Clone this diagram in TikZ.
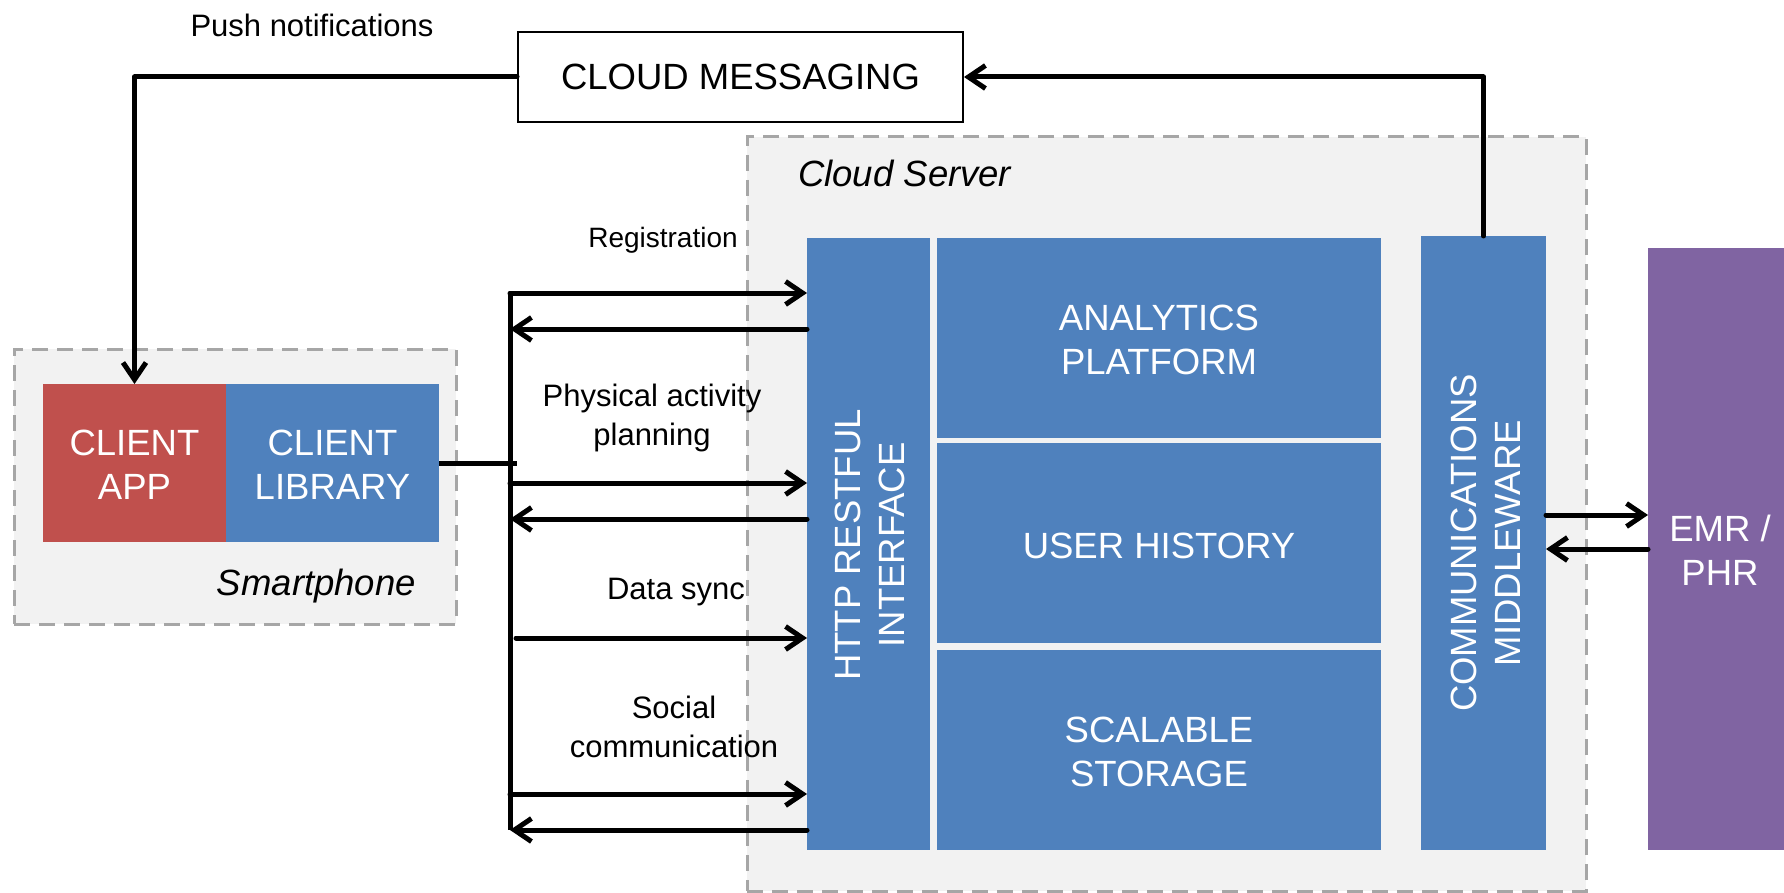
\documentclass[tikz,border=0pt]{standalone}
\usepackage{fontspec}
\setmainfont{Liberation Sans}
\usetikzlibrary{arrows.meta,calc}

\definecolor{cblue}{HTML}{4F81BD}
\definecolor{cred}{HTML}{C0504D}
\definecolor{cpurple}{HTML}{8064A2}
\definecolor{panelfill}{HTML}{F2F2F2}
\definecolor{paneledge}{HTML}{A6A6A6}

\tikzset{
  block/.style={draw=none, inner sep=0pt, outer sep=0pt},
  panel/.style={fill=panelfill, draw=paneledge, line width=3pt,
                dash pattern=on 16pt off 9pt, inner sep=0pt, outer sep=0pt},
  boxtext/.style={text=white, align=center, inner sep=0pt,
                  font=\fontsize{36.5}{44}\selectfont},
  lbl/.style={align=center, inner sep=0pt, font=\fontsize{31}{38.5}\selectfont},
  ital/.style={inner sep=0pt, font=\fontsize{36.5}{43}\selectfont\itshape},
  arr/.style={line width=5pt, line cap=round, line join=round,
              -{Straight Barb[length=17pt,width=23pt,line width=5pt]}},
  wire/.style={line width=5pt},
}

\begin{document}
\begin{tikzpicture}[x=1pt,y=-1pt]
\useasboundingbox (0,0) rectangle (1784,893);

% containers
\node[panel, minimum width=839pt, minimum height=754pt] (server) at (1166.5,514) {};
\node[panel, minimum width=442pt, minimum height=275pt] (phone) at (235,486.5) {};
\node[ital, anchor=base west] (serverlbl) at (798,187) {Cloud Server};
\node[ital, anchor=base east] (phonelbl) at (416,595) {Smartphone};

% smartphone components
\node[block, fill=cred, minimum width=183pt, minimum height=158pt] (app) at (134.5,463) {};
\node[block, fill=cblue, minimum width=213pt, minimum height=158pt] (lib) at (332.5,463) {};
\node[boxtext] at (134.5,465) {CLIENT\\APP};
\node[boxtext] at (332.5,465) {CLIENT\\LIBRARY};

% cloud messaging
\node[draw=black, line width=2pt, fill=white, minimum width=445pt, minimum height=90pt,
      inner sep=0pt, font=\fontsize{36.5}{44}\selectfont] (cm) at (740.5,77) {CLOUD MESSAGING};
\node[lbl] (pushlbl) at (312,25) {Push notifications};

% server components
\node[block, fill=cblue, minimum width=123pt, minimum height=612pt] (http) at (868.5,544) {};
\node[block, fill=cblue, minimum width=444pt, minimum height=200pt] (ana) at (1159,338) {};
\node[block, fill=cblue, minimum width=444pt, minimum height=200pt] (hist) at (1159,543) {};
\node[block, fill=cblue, minimum width=444pt, minimum height=200pt] (store) at (1159,750) {};
\node[block, fill=cblue, minimum width=125pt, minimum height=614pt] (mw) at (1483.5,543) {};
\node[block, fill=cpurple, minimum width=136pt, minimum height=602pt] (emr) at (1716,549) {};

\node[boxtext, rotate=90] at (870,545) {HTTP RESTFUL\\INTERFACE};
\node[boxtext] at (1159,340) {ANALYTICS\\PLATFORM};
\node[boxtext] at (1159,546) {USER HISTORY};
\node[boxtext] at (1159,752) {SCALABLE\\STORAGE};
\node[boxtext, rotate=90] at (1486,543) {COMMUNICATIONS\\MIDDLEWARE};
\node[boxtext] at (1720,550) {EMR /\\PHR};

% request labels
\node[lbl, font=\fontsize{28}{34}\selectfont] (reglbl) at (663,240) {Registration};
\node[lbl] (actlbl) at (652,418) {Physical activity\\planning};
\node[lbl] (synclbl) at (676,592) {Data sync};
\node[lbl] (sociallbl) at (674,727) {Social\\communication};

% bus between client library and REST interface
\coordinate (busT) at (510,293);
\coordinate (busB) at (510,830);
\coordinate (libJ) at (517,463);
\coordinate (r1) at (510,329);
\coordinate (f2) at (510,483);
\coordinate (r2) at (510,519);
\coordinate (f3) at (516,638);
\coordinate (f4) at (510,794);
\coordinate (e1) at (1600,515);
\coordinate (e2) at (1600,549);

\draw[wire] (busT) -- (busB);
\draw[wire] (lib.east |- libJ) -- (libJ);

\draw[arr] (busT) -- (busT -| http.west);
\draw[arr] (r1 -| http.west) -- (r1);
\draw[arr] (f2) -- (f2 -| http.west);
\draw[arr] (r2 -| http.west) -- (r2);
\draw[arr] (f3) -- (f3 -| http.west);
\draw[arr] (f4) -- (f4 -| http.west);
\draw[arr] (busB -| http.west) -- (busB);

% middleware links
\draw[arr] (mw.north) |- (cm.east);
\draw[arr] (cm.west) -| (app.north);
\draw[arr] (e1 -| mw.east) -- (e1 -| emr.west);
\draw[arr] (e2 -| emr.west) -- (e2 -| mw.east);
\end{tikzpicture}
\end{document}
